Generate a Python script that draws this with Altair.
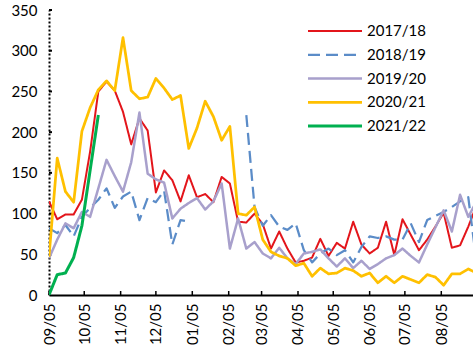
import altair as alt
import pandas as pd

series = ["2017/18", "2018/19", "2019/20", "2020/21", "2021/22"]
colors = ["#E3151B", "#5B8CC8", "#A8A0CC", "#FFC000", "#00B050"]
widths = [2, 3, 3, 3, 3]
dashes = [[1, 0], [12, 6], [1, 0], [1, 0], [1, 0]]

N = None
v_1718 = [115, 93, 99, 99, 117, 176, 250, 262, 251, 225, 185, 217, 202, 126, 153,
          141, 115, 147, 120, 124, 114, 145, 137, 90, 89, 100, 87, 57, 78, 57,
          40, 42, 46, 69, 48, 64, 57, 90, 62, 51, 58, 90, 49, 93, 74,
          55, 68, 84, 101, 58, 61, 84, 110]
v_1819 = [82, 76, 86, 72, 96, 107, 117, 131, 107, 121, 127, 92, 119, 114, 128,
          62, 92, 90, N, N, N, N, N, N, 221, 108, 85, 98, 84, 80,
          88, 55, 40, 51, 57, 49, 55, 40, 59, 72, 70, 72, 68, 68, 88,
          65, 92, 97, 102, 108, 115, 120, 40]
v_1920 = [45, 68, 88, 82, 102, 96, 131, 166, 146, 127, 163, 224, 149, 142, 138,
          94, 106, 113, 119, 105, 115, 137, 57, 94, 57, 65, 51, 45, 58, 45,
          38, 51, 53, 56, 45, 35, 45, 33, 42, 32, 38, 45, 49, 57, 48,
          40, 62, 83, 104, 78, 123, 96, 115]
v_2021 = [47, 168, 127, 114, 201, 230, 252, 263, 251, 316, 251, 241, 243, 266, 254,
          240, 245, 180, 205, 238, 219, 190, 207, 100, 98, 108, 68, 53, 48, 45,
          36, 39, 23, 33, 26, 27, 33, 30, 23, 27, 15, 23, 15, 23, 19,
          15, 25, 22, 12, 26, 26, 32, 27]
v_2122 = [0, 25, 27, 46, 85, 153, 221]
values = [v_1718, v_1819, v_1920, v_2021, v_2122]

tick_labels = ["09/05", "10/05", "11/05", "12/05", "01/05", "02/05",
               "03/05", "04/05", "05/05", "06/05", "07/05", "08/05"]
y_ticks = [0, 50, 100, 150, 200, 250, 300, 350]

start = pd.Timestamp("2017-09-05")
rows = []
for name, vals in zip(series, values):
    for k, v in enumerate(vals):
        rows.append({"series": name, "date": start + pd.Timedelta(days=7 * k),
                     "value": v, "order": k})
df = pd.DataFrame(rows)
df["value"] = df["value"].astype(float)


def lab_date(lbl):
    m, d = int(lbl[:2]), int(lbl[3:])
    return (2017 if m >= 9 else 2018), m, d


tick_dt = [alt.DateTime(year=y, month=m, date=d) for y, m, d in map(lab_date, tick_labels)]
tick_df = pd.DataFrame({"date": [pd.Timestamp(y, m, d) for y, m, d in map(lab_date, tick_labels)]})
ytick_df = pd.DataFrame({"value": y_ticks[1:]})

FONT = "Lato"
x_enc = alt.X(
    "date:T",
    scale=alt.Scale(domain=[alt.DateTime(year=2017, month=9, date=5),
                            alt.DateTime(year=2018, month=9, date=1)]),
    axis=alt.Axis(values=tick_dt, format="%m/%d", labelAngle=-90, labelAlign="right",
                  labelBaseline="middle", labelPadding=8, tickSize=0, domainColor="#000000",
                  domainWidth=2, grid=False, title=None, labelFont=FONT, labelFontSize=15,
                  labelColor="#000000", labelOverlap=False, labelFlush=False),
)
y_enc = alt.Y(
    "value:Q",
    scale=alt.Scale(domain=[0, 350], nice=False),
    axis=alt.Axis(values=y_ticks, tickSize=0, labelPadding=12, domainDash=[2, 2],
                  domainColor="#000000", domainWidth=2, grid=False, title=None,
                  labelFont=FONT, labelFontSize=15, labelColor="#000000"),
)
color = alt.Color("series:N", scale=alt.Scale(domain=series, range=colors), legend=None)
dash = alt.StrokeDash("series:N", scale=alt.Scale(domain=series, range=dashes), legend=None)
sw = alt.StrokeWidth("series:N", scale=alt.Scale(domain=series, range=widths), legend=None)

lines = alt.Chart(df).mark_line(clip=True, invalid="break-paths-show-domains",
                                strokeJoin="round").encode(
    x=x_enc, y=y_enc, color=color, strokeDash=dash, strokeWidth=sw,
    order=alt.Order("order:Q"), detail="series:N")

xticks = alt.Chart(tick_df).mark_rule(color="#000000", strokeWidth=1.5).encode(
    x=x_enc, y=alt.value(281), y2=alt.value(285))
yticks = alt.Chart(ytick_df).mark_rule(color="#000000", strokeWidth=2).encode(
    y=y_enc, x=alt.value(0), x2=alt.value(3))

main = alt.layer(xticks, yticks, lines)

leg_df = pd.DataFrame({"series": series})
leg_y = alt.Y("series:N", scale=alt.Scale(type="point", domain=series, range=[21, 116], padding=0),
              axis=None)
leg_rule = alt.Chart(leg_df).mark_rule(strokeCap="butt").encode(
    x=alt.value(259), x2=alt.value(313), y=leg_y, color=color, strokeDash=dash, strokeWidth=sw)
leg_text = alt.Chart(leg_df).mark_text(align="left", baseline="middle", font=FONT,
                                        fontSize=15, color="#000000").encode(
    x=alt.value(318), y=leg_y, text="series:N")
leg = alt.layer(leg_rule, leg_text)

chart = alt.layer(main, leg).resolve_scale(y="independent").properties(
    width=424, height=285,
    autosize=alt.AutoSizeParams(type="none"),
    padding={"left": 49, "top": 10, "right": 0, "bottom": 59},
    background="#ffffff",
).configure_view(stroke=None)

chart.save("out.html", embed_options={"renderer": "svg", "actions": False})
